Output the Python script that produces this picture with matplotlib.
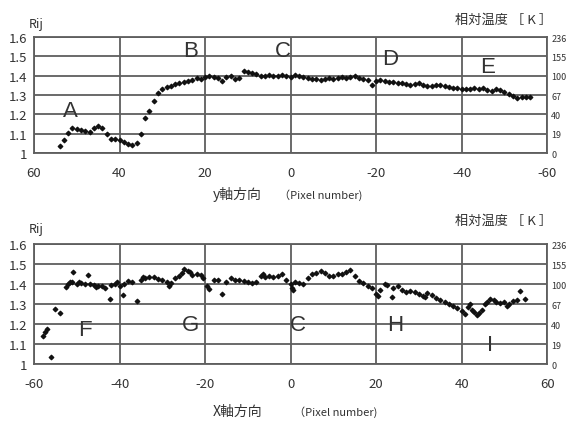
import matplotlib
matplotlib.use('Agg')
import matplotlib.pyplot as plt

plt.rcParams['font.family'] = ['Noto Sans CJK JP', 'DejaVu Sans']

# upper panel: y-direction profile
y_pix = [54, 53, 52, 51, 50, 49, 48, 47, 46, 45, 44, 43, 42, 41, 40, 39, 38, 37, 36, 35,
         34, 33, 32, 31, 30, 29, 28, 27, 26, 25, 24, 23, 22, 21, 20, 19, 18, 17, 16, 15,
         14, 13, 12, 11, 10, 9, 8, 7, 6, 5, 4, 3, 2, 1, 0, -1, -2, -3, -4, -5,
         -6, -7, -8, -9, -10, -11, -12, -13, -14, -15, -16, -17, -18, -19, -20, -21, -22, -23, -24, -25,
         -26, -27, -28, -29, -30, -31, -32, -33, -34, -35, -36, -37, -38, -39, -40, -41, -42, -43, -44, -45,
         -46, -47, -48, -49, -50, -51, -52, -53, -54, -55, -56]
y_rij = [1.035, 1.07, 1.105, 1.13, 1.125, 1.12, 1.115, 1.11, 1.13, 1.14, 1.13, 1.10, 1.075, 1.075, 1.07, 1.06, 1.045, 1.04, 1.05, 1.10,
         1.18, 1.22, 1.27, 1.31, 1.33, 1.34, 1.345, 1.355, 1.36, 1.37, 1.375, 1.38, 1.39, 1.385, 1.395, 1.40, 1.395, 1.39, 1.375, 1.395,
         1.40, 1.385, 1.39, 1.425, 1.42, 1.415, 1.41, 1.40, 1.40, 1.405, 1.40, 1.40, 1.405, 1.40, 1.395, 1.405, 1.40, 1.395, 1.39, 1.385,
         1.385, 1.38, 1.385, 1.39, 1.385, 1.39, 1.395, 1.39, 1.395, 1.40, 1.39, 1.385, 1.38, 1.35, 1.375, 1.38, 1.375, 1.37, 1.365, 1.36,
         1.36, 1.355, 1.35, 1.355, 1.36, 1.35, 1.345, 1.345, 1.35, 1.35, 1.345, 1.34, 1.335, 1.335, 1.33, 1.33, 1.33, 1.335, 1.33, 1.335,
         1.325, 1.32, 1.33, 1.325, 1.315, 1.305, 1.295, 1.285, 1.29, 1.29, 1.29]

# lower panel: x-direction profile
x_pix = [-58, -57.5, -57, -56, -55, -54, -52.5, -52, -51.5, -51, -50.8, -50, -49.5, -49, -48, -47.4, -47, -46, -45.5, -45,
         -44, -43.5, -42.2, -42, -41, -40.5, -40, -39.2, -39, -38, -37, -35.9, -35, -34.5, -34, -33, -32, -31, -30, -29,
         -28.5, -28, -27, -26, -25.5, -25, -24, -23.5, -23, -22, -21, -20.5, -19.5, -19, -18, -17, -16, -15, -14, -13,
         -12, -11, -10, -9, -8, -7, -6.5, -6, -5, -4, -3, -2, -1, 0, 0.3, 0.6, 1, 2, 3, 4,
         5, 6, 7, 8, 9, 10, 11, 12, 13, 14, 15, 16, 17, 18, 19, 20, 20.5, 21, 22, 22.5,
         23.7, 24, 25, 26, 27, 28, 29, 30, 31, 31.5, 32, 33, 34, 35, 36, 37, 38, 39, 40, 40.8,
         41.5, 42, 42.5, 43, 43.6, 44, 44.8, 45.5, 46, 46.7, 47.5, 48, 49, 50, 50.6, 51, 52, 53, 53.7, 54.9]
x_rij = [1.14, 1.16, 1.175, 1.035, 1.275, 1.255, 1.385, 1.40, 1.41, 1.41, 1.46, 1.40, 1.41, 1.405, 1.40, 1.445, 1.40, 1.395, 1.385, 1.39,
         1.39, 1.38, 1.325, 1.395, 1.40, 1.41, 1.39, 1.345, 1.40, 1.415, 1.41, 1.315, 1.42, 1.435, 1.43, 1.435, 1.435, 1.425, 1.42, 1.41,
         1.39, 1.405, 1.43, 1.44, 1.455, 1.475, 1.465, 1.46, 1.445, 1.45, 1.445, 1.43, 1.39, 1.375, 1.42, 1.42, 1.35, 1.41, 1.43, 1.42,
         1.42, 1.415, 1.41, 1.405, 1.41, 1.44, 1.45, 1.435, 1.44, 1.435, 1.44, 1.45, 1.42, 1.40, 1.38, 1.37, 1.41, 1.405, 1.40, 1.43,
         1.45, 1.455, 1.465, 1.455, 1.44, 1.44, 1.45, 1.45, 1.46, 1.47, 1.44, 1.415, 1.405, 1.39, 1.38, 1.35, 1.34, 1.37, 1.40, 1.395,
         1.335, 1.38, 1.39, 1.37, 1.36, 1.365, 1.36, 1.35, 1.34, 1.335, 1.355, 1.345, 1.33, 1.32, 1.31, 1.30, 1.29, 1.28, 1.265, 1.25,
         1.285, 1.30, 1.27, 1.26, 1.245, 1.255, 1.27, 1.30, 1.31, 1.325, 1.32, 1.31, 1.305, 1.31, 1.29, 1.30, 1.315, 1.32, 1.365, 1.325]

rij_ticks = [1, 1.1, 1.2, 1.3, 1.4, 1.5, 1.6]
rij_labels = ['1', '1.1', '1.2', '1.3', '1.4', '1.5', '1.6']
temp_labels = ['0', '19', '40', '67', '100', '155', '236']

top_letters = ['A', 'B', 'C', 'D', 'E']
top_lx = [51.6, 23.5, 1.8, -23.3, -46]
top_ly = [1.22, 1.53, 1.53, 1.49, 1.45]
bot_letters = ['F', 'G', 'C', 'H', 'I']
bot_lx = [-48, -23.5, 1.8, 24.4, 46.7]
bot_ly = [1.175, 1.2, 1.2, 1.2, 1.1]

grid_c = '#5e5e5e'
txt_c = '#333333'

fig = plt.figure(figsize=(5.76, 4.27), dpi=100)
ax1 = fig.add_axes([0.059, 0.639, 0.891, 0.272])
ax2 = fig.add_axes([0.059, 0.145, 0.891, 0.281])


def style(ax, xlim, xticks):
    ax.set_xlim(*xlim)
    ax.set_ylim(1, 1.6)
    ax.set_xticks(xticks)
    ax.set_xticklabels([str(t) for t in xticks])
    ax.set_yticks(rij_ticks)
    ax.set_yticklabels(rij_labels)
    ax.grid(True, color=grid_c, lw=1.3)
    ax.set_axisbelow(True)
    for s in ax.spines.values():
        s.set_color(grid_c)
        s.set_linewidth(1.3)
    ax.tick_params(length=0, colors=txt_c, labelsize=9.5, pad=9)
    ax.tick_params(axis='y', pad=5)
    tw = ax.twinx()
    tw.set_ylim(1, 1.6)
    tw.set_yticks(rij_ticks)
    tw.set_yticklabels(temp_labels)
    tw.tick_params(length=0, colors=txt_c, labelsize=6.5, pad=3)
    for s in tw.spines.values():
        s.set_visible(False)
    return tw


style(ax1, (60, -60), [60, 40, 20, 0, -20, -40, -60])
style(ax2, (-60, 60), [-60, -40, -20, 0, 20, 40, 60])

ax1.scatter(y_pix, y_rij, marker='D', s=5, color='#111111', zorder=3)
ax2.scatter(x_pix, x_rij, marker='D', s=5, color='#111111', zorder=3)

for t, x, y in zip(top_letters, top_lx, top_ly):
    ax1.text(x, y, t, fontsize=16, color=txt_c, ha='center', va='center', family='Liberation Sans')
for t, x, y in zip(bot_letters, bot_lx, bot_ly):
    ax2.text(x, y, t, fontsize=16, color=txt_c, ha='center', va='center', family='Liberation Sans')

fig.text(0.05, 0.935, 'Rij', fontsize=9, color=txt_c)
fig.text(0.05, 0.455, 'Rij', fontsize=9, color=txt_c)
fig.text(0.79, 0.945, '相対温度 ［ K ］', fontsize=9.5, color=txt_c)
fig.text(0.79, 0.473, '相対温度 ［ K ］', fontsize=9.5, color=txt_c)

fig.text(0.37, 0.533, 'y軸方向', fontsize=10, color=txt_c)
fig.text(0.485, 0.535, '（Pixel number)', fontsize=8, color=txt_c)
fig.text(0.37, 0.025, 'X軸方向', fontsize=10, color=txt_c)
fig.text(0.51, 0.027, '（Pixel number)', fontsize=8, color=txt_c)

fig.savefig('out.png', dpi=100)
